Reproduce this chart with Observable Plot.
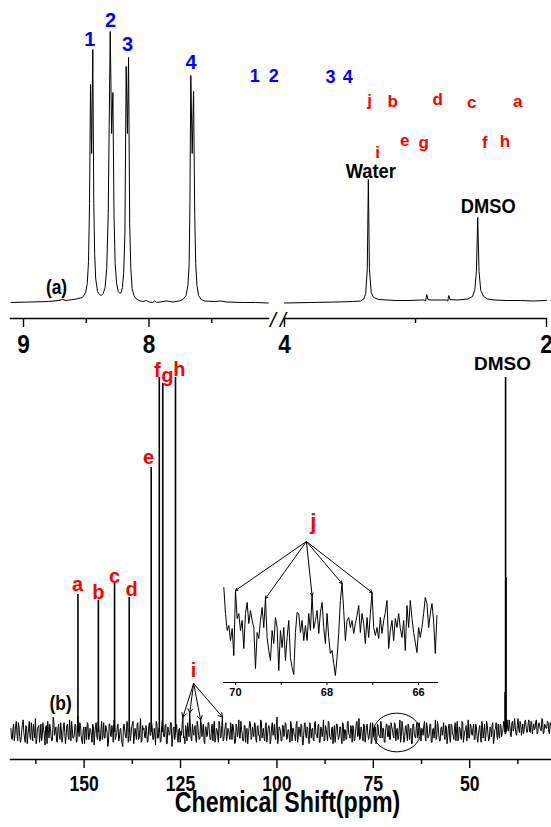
<!DOCTYPE html>
<html><head><meta charset="utf-8">
<script src="https://cdn.jsdelivr.net/npm/d3@7"></script>
<script src="https://cdn.jsdelivr.net/npm/@observablehq/plot@0.6"></script>
<style>
body{margin:0;background:#fff;}
#chart{position:relative;width:551px;height:827px;overflow:hidden;background:#fff;}
#chart svg{position:absolute;left:0;top:0;}
</style></head><body><div id="chart"></div>
<script>
// ================= DATA =================
// Panel (a): 1H NMR, left segment (ppm, intensity)
const aLeftPpm = [9.10,8.95,8.80,8.72,8.69,8.66,8.58,8.53,8.505,8.492,8.482,8.474,8.466,8.457,8.448,8.440,8.433,8.425,8.41,8.395,8.38,8.365,8.35,8.337,8.325,8.309,8.298,8.288,8.279,8.270,8.258,8.245,8.232,8.222,8.212,8.202,8.192,8.182,8.172,8.163,8.154,8.145,8.135,8.12,8.105,8.08,8.05,8.02,8.00,7.97,7.955,7.94,7.91,7.86,7.81,7.76,7.73,7.705,7.69,7.68,7.674,7.667,7.656,7.645,7.636,7.628,7.618,7.605,7.585,7.555,7.48,7.43,7.38,7.25,7.15,7.05];
const aLeftInt = [1,1.5,2,3,4,3,4.5,6,11,20,42,100,219,150,254,100,50,25,12,9,8,10,16,35,90,272,170,211,90,40,20,12,10,11,16,30,70,237,170,246,80,35,15,8,5,3,2,3,1.5,1,2.5,1,1.5,2.5,1.5,2.5,4,8,18,40,100,228,150,212,90,40,18,8,4,2.5,2,2.5,1.5,1,1,0.5];
// Panel (a): right segment
const aRightPpm = [4.00,3.80,3.60,3.48,3.42,3.395,3.38,3.368,3.360,3.352,3.338,3.32,3.28,3.15,3.05,2.96,2.935,2.923,2.914,2.905,2.88,2.80,2.765,2.754,2.746,2.737,2.68,2.60,2.565,2.547,2.535,2.525,2.515,2.502,2.48,2.45,2.40,2.30,2.20,2.10,2.00];
const aRightInt = [0.5,1,1.5,2,2.5,4.5,10,35,124,35,11,6,4,3,3,3.5,3.5,2.5,9,4,3.5,3.5,3.5,2.5,8,4,3.5,4.5,7,14,32,86,32,13,7,4.5,3.5,3,3,2.5,3];
const aTicksLeft = [9, 8], aMinorLeft = [8.5, 7.5];
const aTicksRight = [4, 2], aMinorRight = [3];
// Panel (a) labels
const aBlueBigText = ["1","2","3","4"];
const aBlueBigPpm = [8.472, 8.307, 8.171, 7.664];
const aBlueBigV = [263.5, 283, 258.5, 240.5];
const aBlueSmallText = ["1","2","3","4"];
const aBlueSmallPpm = [4.228, 4.083, 3.648, 3.518];
const aBlueSmallV = [227.5, 227, 226, 226];
const aRedText = ["j","b","d","c","a","e","g","f","h","i"];
const aRedPpm = [3.350, 3.174, 2.830, 2.570, 2.219, 3.082, 2.937, 2.471, 2.318, 3.289];
const aRedV = [203, 202, 204, 201, 202, 163, 161, 161, 162, 151];
const aBlackText = ["Water", "DMSO"];
const aBlackPpm = [3.342, 2.445];
const aBlackV = [132, 97];
const aTag = [{t: "(a)", ppm: 8.737, v: 16}];

// Panel (b): 13C NMR
const bTicks = [150, 125, 100, 75, 50];
const bMinor = [162.5, 137.5, 112.5, 87.5, 62.5, 37.5];
const bPeakPpm = [151.6, 146.3, 142.1, 138.3, 132.6, 130.5, 129.6, 126.3, 40.7];
const bPeakInt = [98.6, 94.3, 106.4, 96.4, 189.3, 253.6, 249.3, 253.6, 253.6];
const bShoulderPpm = [40.55, 40.85];
const bShoulderInt = [110.7, 28.6];
const bNoiseStart = 169.0, bNoiseEnd = 28.8;
// noise samples on the grid points
const bNoise = [
3,-5,6,-2,8,-6,4,-7,2,9,-4,5,-8,3,-3,7,-6,1,10,-5,
4,-7,6,-3,2,-9,5,8,-4,3,-6,11,-2,4,-7,6,-5,2,-3,7,
-8,5,-2,9,-6,3,-4,6,-7,12,-3,5,-6,2,-8,4,7,-5,3,-2,
6,-9,4,-3,8,-6,2,-5,7,-4,3,-10,6,-2,5,-7,9,-3,4,-6,
2,-5,-10,6,-3,8,-7,4,-2,6,-8,3,-5,7,-4,10,-6,2,-3,5,
-7,4,-2,8,-5,3,-9,6,-4,2,-6,9,-3,5,-8,4,-2,7,-10,3,
-5,6,-4,2,-7,-2,11,-3,5,-6,3,14,-4,6,-2,5,-7,4,-5,9,
-3,6,-8,4,-2,7,-5,3,-6,8,-4,2,-7,5,-3,11,-5,4,-6,3,
-2,7,-5,4,-8,6,-3,9,-4,2,-6,5,-7,3,-2,8,-5,4,-3,6,
-7,5,-2,9,-4,3,-6,7,-3,5,-8,4,-2,6,-5,11,-4,3,-6,5,
-3,7,-5,2,-4,8,-6,3,-2,6,-7,4,-3,5,-9,6,-2,4,-5,7,
-4,3,-6,8,-2,5,-7,4,-3,9,-5,2,-6,7,-4,3,-8,5,-2,6,
-5,4,-3,7,-6,2,-4,8,-2,5,-7,3,-5,6,-3,10,-4,2,-6,5,
-2,6,-5,3,-8,7,-3,4,-6,5,-2,8,-4,3,-7,6,-3,5,-5,4,
-2,7,-6,3,-4,9,-3,5,-7,4,-2,6,-5,3,-8,6,-3,4,-4,7,
-5,3,-2,8,-6,4,-3,6,-7,2,-4,9,-3,5,-6,3,-2,7,-5,4,
-3,6,-7,5,-2,4,-6,8,-4,3,-5,7,-3,2,-6,9,-4,5,-2,6,
-5,4,-7,3,-3,8,-4,6,-2,5,-6,4,-3,7,-5,3,-2,6,-4,5,
0,8,-1,6,2,9,-2,7,1,10,-1,5,3,8,-2,6,2,9,0,7,
1,8,-1,6,3,9,0,7,2,10,-1,6,3,8,1,7,2];
// noise samples half-way between the grid points
const bNoiseMid = [
-4,2,-6,5,-1,7,-3,-5,6,0,-7,4,-2,8,-5,1,6,-4,-8,3,
5,-2,-6,7,-1,4,-8,2,6,-3,-5,8,1,-6,3,-2,7,-7,4,0,
-3,6,-5,2,8,-4,-1,5,-6,3,7,-2,-8,4,1,-5,6,-3,2,-7,
4,-1,7,-5,3,-6,8,-2,-4,5,0,-7,6,-3,2,9,-5,-1,6,-4,
3,-8,5,1,-4,7,-2,-6,4,8,-3,-1,6,-5,2,-7,5,3,-4,1,
-6,7,-2,4,-5,-1,8,-4,3,-7,5,1,-3,6,-8,2,-1,7,-5,4,
-2,5,-7,3,1,6,-4,-8,2,7,-3,5,-6,0,4,-5,8,-2,-4,6,
1,-6,4,-3,7,-1,-5,6,2,-7,3,-2,8,-4,5,-6,0,7,-3,2,
-5,3,6,-2,-7,4,1,-4,8,-1,-6,5,2,-8,3,6,-3,-1,7,-5,
4,-2,-6,8,0,-4,5,-7,3,2,-5,7,-1,-3,6,-8,4,1,-6,5,
-1,6,-4,2,-7,5,3,-2,-6,8,-3,1,6,-5,-2,7,-4,3,-8,4,
2,-5,7,-1,-4,6,-7,3,1,-6,5,-2,8,-3,-5,4,0,-7,6,-1,
-3,4,-8,6,2,-5,7,-1,-4,3,5,-6,1,8,-2,-5,4,-3,6,-7,
5,-1,-3,7,-6,2,4,-8,6,-2,-4,5,3,-7,1,6,-3,-5,7,2,
-4,6,1,-5,3,-7,8,-2,-3,5,-6,4,2,-8,6,-1,-4,7,-2,3,
-6,2,5,-3,7,-4,-1,6,-7,3,1,-5,8,-2,-6,4,2,-3,5,-8,
3,-4,6,-1,-5,7,2,-6,4,-3,8,-7,1,5,-2,-4,6,-1,3,-5,
6,-3,-2,5,-7,4,1,-6,8,-1,-4,3,5,-8,2,7,-5,-2,6,-3,
2,6,-1,9,1,5,-3,8,3,4,-2,10,0,6,2,-1,8,3,1,9,
0,7,3,2,8,-1,6,4,1,9,0,5,3,7,-1,6];
const bRedText = ["a","b","c","d","e","f","g","h","i"];
const bRedPpm = [151.7, 146.3, 142.1, 137.7, 133.3, 131.0, 128.4, 125.3, 121.6];
const bRedV = [105.7, 100, 111.4, 102.1, 196.4, 258.6, 255, 259.3, 44.3];
const bDmsoLabel = [{t: "DMSO", ppm: 41.5, v: 263.2}];
const bTag = [{t: "(b)", ppm: 156.1, v: 20.7}];
const iOrigin = {ppm: 121.6, v: 35};
const iTargetPpm = [124.38, 122.61, 119.78, 114.11];
const iTargetV = [11, 14, 9, 11];
const circled = [{ppm: 68.9, v: 0}];

// Inset (66-70 ppm)
const insetTicks = [70, 68, 66], insetMinor = [69, 67];
const insetStart = 70.2547, insetEnd = 65.597;
const insetNoise = [93,67,50,55,40,52,25,90,62,67,50,60,32,67,78,57,70,60,53,12,
48,42,60,73,53,82,43,30,20,50,37,63,53,10,50,33,53,20,43,60,
23,13,6,48,68,67,48,60,40,55,40,67,50,85,52,60,70,47,68,78,
53,37,67,43,27,30,17,5,23,47,80,97,70,40,60,63,53,60,47,57,
65,75,48,67,57,37,63,43,67,88,53,45,53,42,63,47,60,68,80,32,
50,60,40,62,53,67,52,43,60,30,75,53,80,62,48,38,28,53,43,53,
67,83,77,53,67,77,60,27,65];
const jOrigin = {ppm: 68.45, v: 139};
const jTargetPpm = [70.000, 69.345, 68.326, 67.671, 67.016];
const jTargetV = [90, 82, 85, 97, 88];
const jLabel = [{t: "j", ppm: 68.30, v: 159}];
const bTitle = "Chemical Shift(ppm)";

// ================= HELPERS =================
const W = 551, H = 827;
const REG = "'Liberation Sans', Arial, Helvetica, sans-serif";
// two condensed looks (compressed after rendering)
const NAR80 = "'Liberation Sans Narrow', 'Liberation Sans', Arial, sans-serif";
const NAR87 = "'Arial Narrow', 'Liberation Sans', Arial, sans-serif";
const RED = "#ff0000", BLUE = "#0000ff";
const intFmt = d => String(d);
const zipRows = (cols) => { const k = Object.keys(cols); return cols[k[0]].map((_, i) => Object.fromEntries(k.map(n => [n, cols[n][i]]))); };
const host = document.getElementById("chart");
function place(opts) {
  const el = Plot.plot(Object.assign({width: W, height: H, marginTop: 0,
    style: {background: "transparent", overflow: "visible"}}, opts));
  host.appendChild(el);
}
const ellipse = {draw(ctx, size) {
  const r = Math.sqrt(size / Math.PI), rx = r * 1.1, ry = r * 0.9, k = 0.5523;
  ctx.moveTo(rx, 0);
  ctx.bezierCurveTo(rx, ry * k, rx * k, ry, 0, ry);
  ctx.bezierCurveTo(-rx * k, ry, -rx, ry * k, -rx, 0);
  ctx.bezierCurveTo(-rx, -ry * k, -rx * k, -ry, 0, -ry);
  ctx.bezierCurveTo(rx * k, -ry, rx, -ry * k, rx, 0);
  ctx.closePath();
}};

// ================= PANEL (a) LEFT =================
place({
  marginLeft: 10, marginRight: 283, marginBottom: 509,
  x: {domain: [9.1036, 7.048], label: null},
  y: {domain: [0, 280], range: [303, 23], axis: null},
  marks: [
    Plot.frame({anchor: "bottom", strokeWidth: 1.4}),
    Plot.axisX({ticks: aTicksLeft, tickFormat: intFmt, tickSize: 9, tickPadding: 7, fontSize: 26, fontWeight: "bold", fontFamily: NAR87, strokeWidth: 1.4}),
    Plot.axisX({ticks: aMinorLeft, tickSize: 5, tickFormat: () => "", strokeWidth: 1.4}),
    Plot.line(zipRows({ppm: aLeftPpm, v: aLeftInt}), {x: "ppm", y: "v", stroke: "black", strokeWidth: 1}),
    Plot.text(zipRows({t: aBlueBigText, ppm: aBlueBigPpm, v: aBlueBigV}), {x: "ppm", y: "v", text: "t", fill: BLUE, fontSize: 20, fontWeight: "bold", fontFamily: REG}),
    Plot.text(aTag, {x: "ppm", y: "v", text: "t", fill: "black", fontSize: 20, fontWeight: "bold", fontFamily: NAR87})
  ]
});

// ================= PANEL (a) RIGHT =================
place({
  marginLeft: 284, marginRight: 5, marginBottom: 509,
  x: {domain: [4, 2], label: null},
  y: {domain: [0, 280], range: [303, 23], axis: null},
  marks: [
    Plot.frame({anchor: "bottom", strokeWidth: 1.4}),
    Plot.axisX({ticks: aTicksRight, tickFormat: intFmt, tickSize: 9, tickPadding: 7, fontSize: 26, fontWeight: "bold", fontFamily: NAR87, strokeWidth: 1.4}),
    Plot.axisX({ticks: aMinorRight, tickSize: 5, tickFormat: () => "", strokeWidth: 1.4}),
    Plot.text(["/\u2009/"], {frameAnchor: "bottom-left", textAnchor: "middle", lineAnchor: "middle", dx: -6.5, dy: 1.5, fontSize: 21, fontStyle: "italic", fontFamily: REG, fill: "black"}),
    Plot.line(zipRows({ppm: aRightPpm, v: aRightInt}), {x: "ppm", y: "v", stroke: "black", strokeWidth: 1}),
    Plot.text(zipRows({t: aBlueSmallText, ppm: aBlueSmallPpm, v: aBlueSmallV}), {x: "ppm", y: "v", text: "t", fill: BLUE, fontSize: 18, fontWeight: "bold", fontFamily: REG}),
    Plot.text(zipRows({t: aRedText, ppm: aRedPpm, v: aRedV}), {x: "ppm", y: "v", text: "t", fill: RED, fontSize: 17, fontWeight: "bold", fontFamily: REG}),
    Plot.text(zipRows({t: aBlackText, ppm: aBlackPpm, v: aBlackV}), {x: "ppm", y: "v", text: "t", fill: "black", fontSize: 21, fontWeight: "bold", fontFamily: NAR87})
  ]
});

// ================= PANEL (b) =================
const bStep = (bNoiseStart - bNoiseEnd) / (bNoise.length - 1);
const bNoiseRows = [];
bNoise.forEach((v, i) => {
  bNoiseRows.push({ppm: bNoiseStart - i * bStep, v});
  if (i < bNoiseMid.length) bNoiseRows.push({ppm: bNoiseStart - (i + 0.5) * bStep, v: bNoiseMid[i]});
});
place({
  marginLeft: 10, marginRight: 0, marginBottom: 68,
  x: {domain: [169.09, 28.79], label: null},
  y: {domain: [0, 260], range: [732, 368], axis: null},
  marks: [
    Plot.frame({anchor: "bottom", strokeWidth: 1.4}),
    Plot.axisX({ticks: bTicks, tickFormat: intFmt, tickSize: 9, tickPadding: 7, fontSize: 22, fontWeight: "bold", fontFamily: NAR80, strokeWidth: 1.4}),
    Plot.axisX({ticks: bMinor, tickSize: 5, tickFormat: () => "", strokeWidth: 1.4}),
    Plot.text([bTitle], {frameAnchor: "bottom", textAnchor: "middle", lineAnchor: "middle", dx: 6.5, dy: 43, fontSize: 29, fontWeight: "bold", fontFamily: NAR80, fill: "black"}),
    Plot.line(bNoiseRows, {x: "ppm", y: "v", stroke: "black", strokeWidth: 1}),
    Plot.ruleX(zipRows({ppm: bPeakPpm, h: bPeakInt}), {x: "ppm", y1: 0, y2: "h", stroke: "black", strokeWidth: 1.6}),
    Plot.ruleX(zipRows({ppm: bShoulderPpm, h: bShoulderInt}), {x: "ppm", y1: 0, y2: "h", stroke: "black", strokeWidth: 1.4}),
    Plot.arrow(zipRows({ppm: iTargetPpm, v: iTargetV}), {x1: iOrigin.ppm, y1: iOrigin.v, x2: "ppm", y2: "v", headLength: 7, stroke: "black", strokeWidth: 1}),
    Plot.dot(circled, {x: "ppm", y: "v", r: 21.5, symbol: ellipse, stroke: "black", fill: "none", strokeWidth: 1}),
    Plot.text(zipRows({t: bRedText, ppm: bRedPpm, v: bRedV}), {x: "ppm", y: "v", text: "t", fill: RED, fontSize: 20, fontWeight: "bold", fontFamily: REG}),
    Plot.text(bDmsoLabel, {x: "ppm", y: "v", text: "t", fill: "black", fontSize: 19, fontWeight: "bold", fontFamily: REG}),
    Plot.text(bTag, {x: "ppm", y: "v", text: "t", fill: "black", fontSize: 20, fontWeight: "bold", fontFamily: NAR87})
  ]
});

// ================= INSET =================
const insetRows = insetNoise.map((v, i) => ({ppm: insetStart - i * (insetStart - insetEnd) / (insetNoise.length - 1), v}));
place({
  marginLeft: 223, marginRight: 114, marginBottom: 145,
  x: {domain: [70.262, 65.585], label: null},
  y: {domain: [0, 100], range: [680, 580], axis: null},
  marks: [
    Plot.frame({anchor: "bottom", strokeWidth: 1}),
    Plot.axisX({ticks: insetTicks, tickFormat: intFmt, tickSize: 3, tickPadding: 3, fontSize: 11, fontWeight: "bold", fontFamily: REG}),
    Plot.axisX({ticks: insetMinor, tickSize: 3, tickFormat: () => ""}),
    Plot.line(insetRows, {x: "ppm", y: "v", stroke: "black", strokeWidth: 1}),
    Plot.arrow(zipRows({ppm: jTargetPpm, v: jTargetV}), {x1: jOrigin.ppm, y1: jOrigin.v, x2: "ppm", y2: "v", headLength: 4, stroke: "black", strokeWidth: 1}),
    Plot.text(jLabel, {x: "ppm", y: "v", text: "t", fill: RED, fontSize: 22, fontWeight: "bold", fontFamily: REG})
  ]
});

// ===== condense the narrow-style texts horizontally =====
function condense(sel, f) {
  document.querySelectorAll(sel).forEach(el => {
    const L = el.getComputedTextLength();
    if (L > 0) { el.setAttribute("textLength", (L * f).toFixed(2)); el.setAttribute("lengthAdjust", "spacingAndGlyphs"); }
  });
}
condense('[font-family*="Liberation Sans Narrow"] text', 0.80);
condense('[font-family*="Arial Narrow"] text', 0.87);
</script></body></html>
